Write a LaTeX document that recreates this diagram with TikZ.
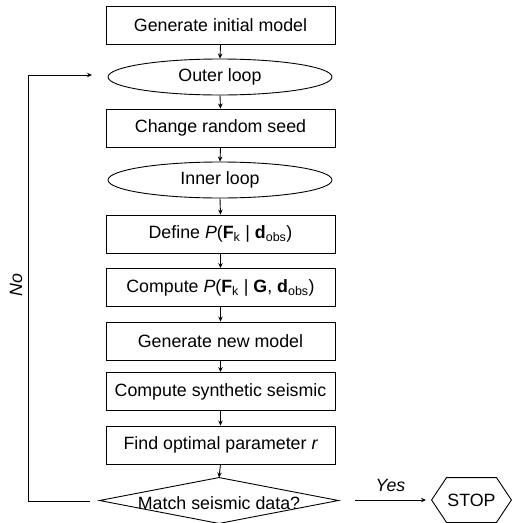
\documentclass[tikz,border=0pt]{standalone}
\usepackage{fontspec}
\setmainfont{Liberation Sans}
\usetikzlibrary{arrows.meta,shapes.geometric}
\begin{document}
\begin{tikzpicture}[x=1pt,y=-1pt,
  font=\fontsize{17.8pt}{21pt}\selectfont,
  line width=0.9pt,
  flowbox/.style={draw, rectangle, minimum width=229pt, minimum height=38pt, inner sep=0pt},
  loopnode/.style={draw, ellipse, minimum width=224pt, minimum height=36pt, inner sep=0pt},
  plain/.style={inner sep=0pt},
  arr/.style={-{Stealth[length=5pt,width=4.5pt]}}]
\useasboundingbox (0,0) rectangle (512,523);

% main chain
\node[flowbox]  (init)  at (220.5,25.5) {Generate initial model};
\node[loopnode] (outer) at (220,77)     {Outer loop};
\node[flowbox]  (seed)  at (220.5,128)  {Change random seed};
\node[loopnode] (inner) at (220,180)    {Inner loop};
\node[flowbox]  (def)   at (220.5,234)  {Define {\itshape P}({\bfseries F}\textsubscript{k} | {\bfseries d}\textsubscript{obs})};
\node[flowbox]  (comp)  at (220.5,287.5) {Compute {\itshape P}({\bfseries F}\textsubscript{k} | {\bfseries G}, {\bfseries d}\textsubscript{obs})};
\node[flowbox]  (gen)   at (220.5,341)  {Generate new model};
\node[flowbox]  (syn)   at (220.5,391.5) {Compute synthetic seismic};
\node[flowbox]  (opt)   at (220.5,445)  {Find optimal parameter {\itshape r}};

% decision diamond
\node[plain, minimum width=238pt, minimum height=45pt] (match) at (219,500.5) {};
\draw (match.west) -- (match.north) -- (match.east) -- (match.south) -- cycle;
\node[plain] (matchtxt) at (219,503) {Match seismic data?};

% terminal hexagon
\node[plain, minimum width=79pt, minimum height=44pt] (stop) at (471.5,500) {STOP};
\draw (stop.west) -- ([xshift=15pt]stop.north west) -- ([xshift=-15pt]stop.north east)
  -- (stop.east) -- ([xshift=-15pt]stop.south east) -- ([xshift=15pt]stop.south west) -- cycle;

% downward flow
\foreach \a/\b in {init/outer, outer/seed, seed/inner, inner/def, def/comp,
                   comp/gen, gen/syn, syn/opt, opt/match}
  \draw[arr] (\a.south) -- (\b.north);

% yes branch
\coordinate (yesA) at (355,500);
\coordinate (yesB) at (426,500);
\draw[arr] (yesA) -- node[above=5pt, font=\fontsize{17.8pt}{21pt}\selectfont\itshape] {Yes} (yesB);

% no branch back to the outer loop
\coordinate (noA) at (90,501);
\coordinate (noB) at (28,501);
\coordinate (noC) at (28,75);
\coordinate (noD) at (92,75);
\draw[arr] (noA) -- (noB) -- (noC) -- (noD);
\node[plain, rotate=90, font=\fontsize{17.8pt}{21pt}\selectfont\itshape] (nolab) at (16,285) {No};
\end{tikzpicture}
\end{document}
